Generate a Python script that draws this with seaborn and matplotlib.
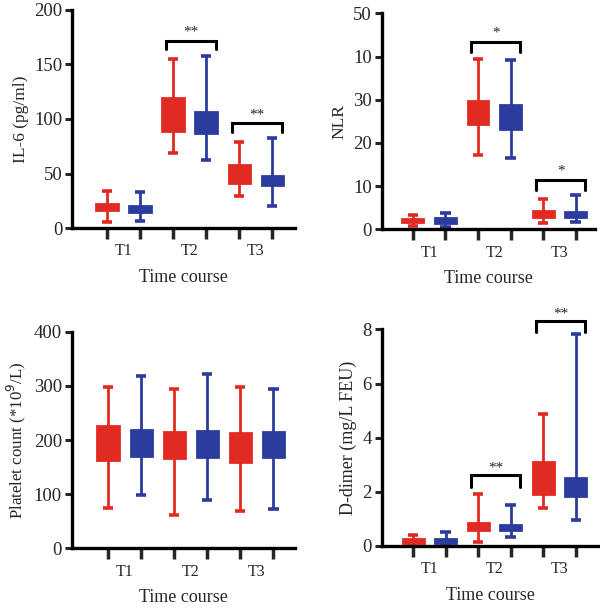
import numpy as np
import pandas as pd
import matplotlib
matplotlib.use("Agg")
import matplotlib.pyplot as plt
import seaborn as sns

sns.set_theme(style="ticks")
plt.rcParams['font.family'] = ['Liberation Serif', 'DejaVu Serif']

RED = "#E02A22"
BLUE = "#2C3C9E"

times = ["T1", "T2", "T3"]
groups = ["Red", "Blue"]

# five-number summaries per box: [min, Q1, median, Q3, max], order T1r, T1b, T2r, T2b, T3r, T3b
il6 = [[5.5, 16.2, 19, 21.7, 33.7], [6.4, 14.4, 17.5, 20.2, 33],
       [69, 89, 105, 119.4, 155], [62, 87.6, 97, 106.6, 158],
       [29, 41.3, 50, 57.6, 79], [20.2, 39.8, 44, 48, 82.7]]
nlr = [[0.8, 1.6, 2.0, 2.4, 3.3], [0.5, 1.4, 2.0, 2.5, 3.7],
       [17.1, 24.5, 27, 29.6, 39.4], [16.6, 23.3, 26, 28.9, 39.1],
       [1.5, 2.9, 3.6, 4.2, 7.1], [1.8, 2.9, 3.5, 4.1, 8.0]]
plt_count = [[75, 163, 195, 226.5, 298], [99, 170.5, 195, 218.5, 319],
             [62, 166, 190, 215, 295], [89, 169, 195, 217, 322],
             [68, 160, 188, 213.5, 297], [73, 169, 193, 215, 295]]
ddimer = [[0.02, 0.09, 0.15, 0.26, 0.38], [0.02, 0.11, 0.15, 0.23, 0.52],
          [0.12, 0.58, 0.72, 0.85, 1.9], [0.31, 0.58, 0.68, 0.76, 1.52],
          [1.39, 1.9, 2.5, 3.1, 4.86], [0.95, 1.85, 2.2, 2.49, 7.82]]

ylabels = ["IL-6 (pg/ml)", "NLR", "Platelet count (*10$^{9}$/L)", "D-dimer (mg/L FEU)"]
ylabel_sizes = [12.5, 12.5, 12.2, 13]
yticks = [[0, 50, 100, 150, 200], [0, 10, 20, 30, 40, 50], [0, 100, 200, 300, 400], [0, 2, 4, 6, 8]]
ytick_labels = [["0", "50", "100", "150", "200"], ["0", "10", "20", "30", "10", "50"],
                ["0", "100", "200", "300", "400"], ["0", "2", "4", "6", "8"]]
# significance: (time index, bracket y, leg bottom y, text y, label)
sig = [
    [(1, 172, 164, 180, "**"), (2, 96, 88, 104, "**")],
    [(1, 43.4, 41.1, 45.5, "*"), (2, 11.3, 9.0, 13.4, "*")],
    [],
    [(1, 2.61, 2.18, 2.87, "**"), (2, 8.32, 7.9, 8.58, "**")],
]
datasets = [il6, nlr, plt_count, ddimer]

# axes positions [left, bottom, width, height] and xlims
positions = [
    [0.120, 0.6256, 0.372, 0.358],
    [0.636, 0.6235, 0.356, 0.3545],
    [0.1195, 0.0997, 0.3722, 0.3556],
    [0.636, 0.104, 0.362, 0.355],
]
xlims = [(-1.06, 5.7), (-0.96, 5.6), (-1.1, 5.66), (-0.97, 5.71)]

fig = plt.figure(figsize=(6.0, 6.09), dpi=100)

cats = [f"{t}-{g}" for t in times for g in groups]
colors = {"Red": RED, "Blue": BLUE}
for k, data in enumerate(datasets):
    rows = []
    for ci, summary in enumerate(data):
        g = groups[ci % 2]
        for v in summary:
            rows.append({"cat": cats[ci], "group": g, "value": v})
    df = pd.DataFrame(rows)
    ax = fig.add_axes(positions[k])
    sns.boxplot(data=df, x="cat", y="value", hue="group", order=cats,
                hue_order=groups, palette=colors,
                dodge=False, whis=(0, 100), showfliers=False, width=0.64,
                saturation=1, linewidth=2.0, legend=False, ax=ax)
    # color every element of each box with its group colour
    for cont, g in zip(ax.containers, groups):
        col = colors[g]
        for b in cont.boxes:
            b.set_facecolor(col)
            b.set_edgecolor(col)
        for ln in list(cont.whiskers) + list(cont.caps) + list(cont.medians):
            ln.set_color(col)
            ln.set_solid_capstyle("butt")
        for ln in cont.caps:
            ln.set_linewidth(2.6)
    ax.set_xlim(*xlims[k])
    ax.set_ylim(yticks[k][0], yticks[k][-1])
    ax.set_xticks(range(6))
    ax.set_xticklabels([""] * 6)
    ax.set_xticks([0.5, 2.5, 4.5], minor=True)
    ax.set_xticklabels(times, minor=True)
    ax.tick_params(axis="x", which="major", length=8, width=2.5, direction="out")
    ax.tick_params(axis="x", which="minor", length=0, pad=11, labelsize=11.5)
    ax.set_yticks(yticks[k])
    ax.set_yticklabels(ytick_labels[k])
    ax.tick_params(axis="y", length=5, width=2.2, labelsize=13.5, pad=2)
    for s in ["left", "bottom"]:
        ax.spines[s].set_linewidth(2.4)
        ax.spines[s].set_color("black")
    sns.despine(ax=ax)
    ax.set_xlabel("Time course", fontsize=13, labelpad=7)
    ax.set_ylabel(ylabels[k], fontsize=ylabel_sizes[k], labelpad=4)
    for (ti, by, bl, ty, lab) in sig[k]:
        x0 = 2 * ti - 0.21
        x1 = 2 * ti + 1 + 0.29
        ax.plot([x0, x0, x1, x1], [bl, by, by, bl], color="black", lw=2.2,
                clip_on=False, solid_joinstyle="miter")
        ax.text((x0 + x1) / 2, ty, lab, ha="center", va="center", fontsize=11,
                clip_on=False)

fig.savefig("out.png", dpi=100)
